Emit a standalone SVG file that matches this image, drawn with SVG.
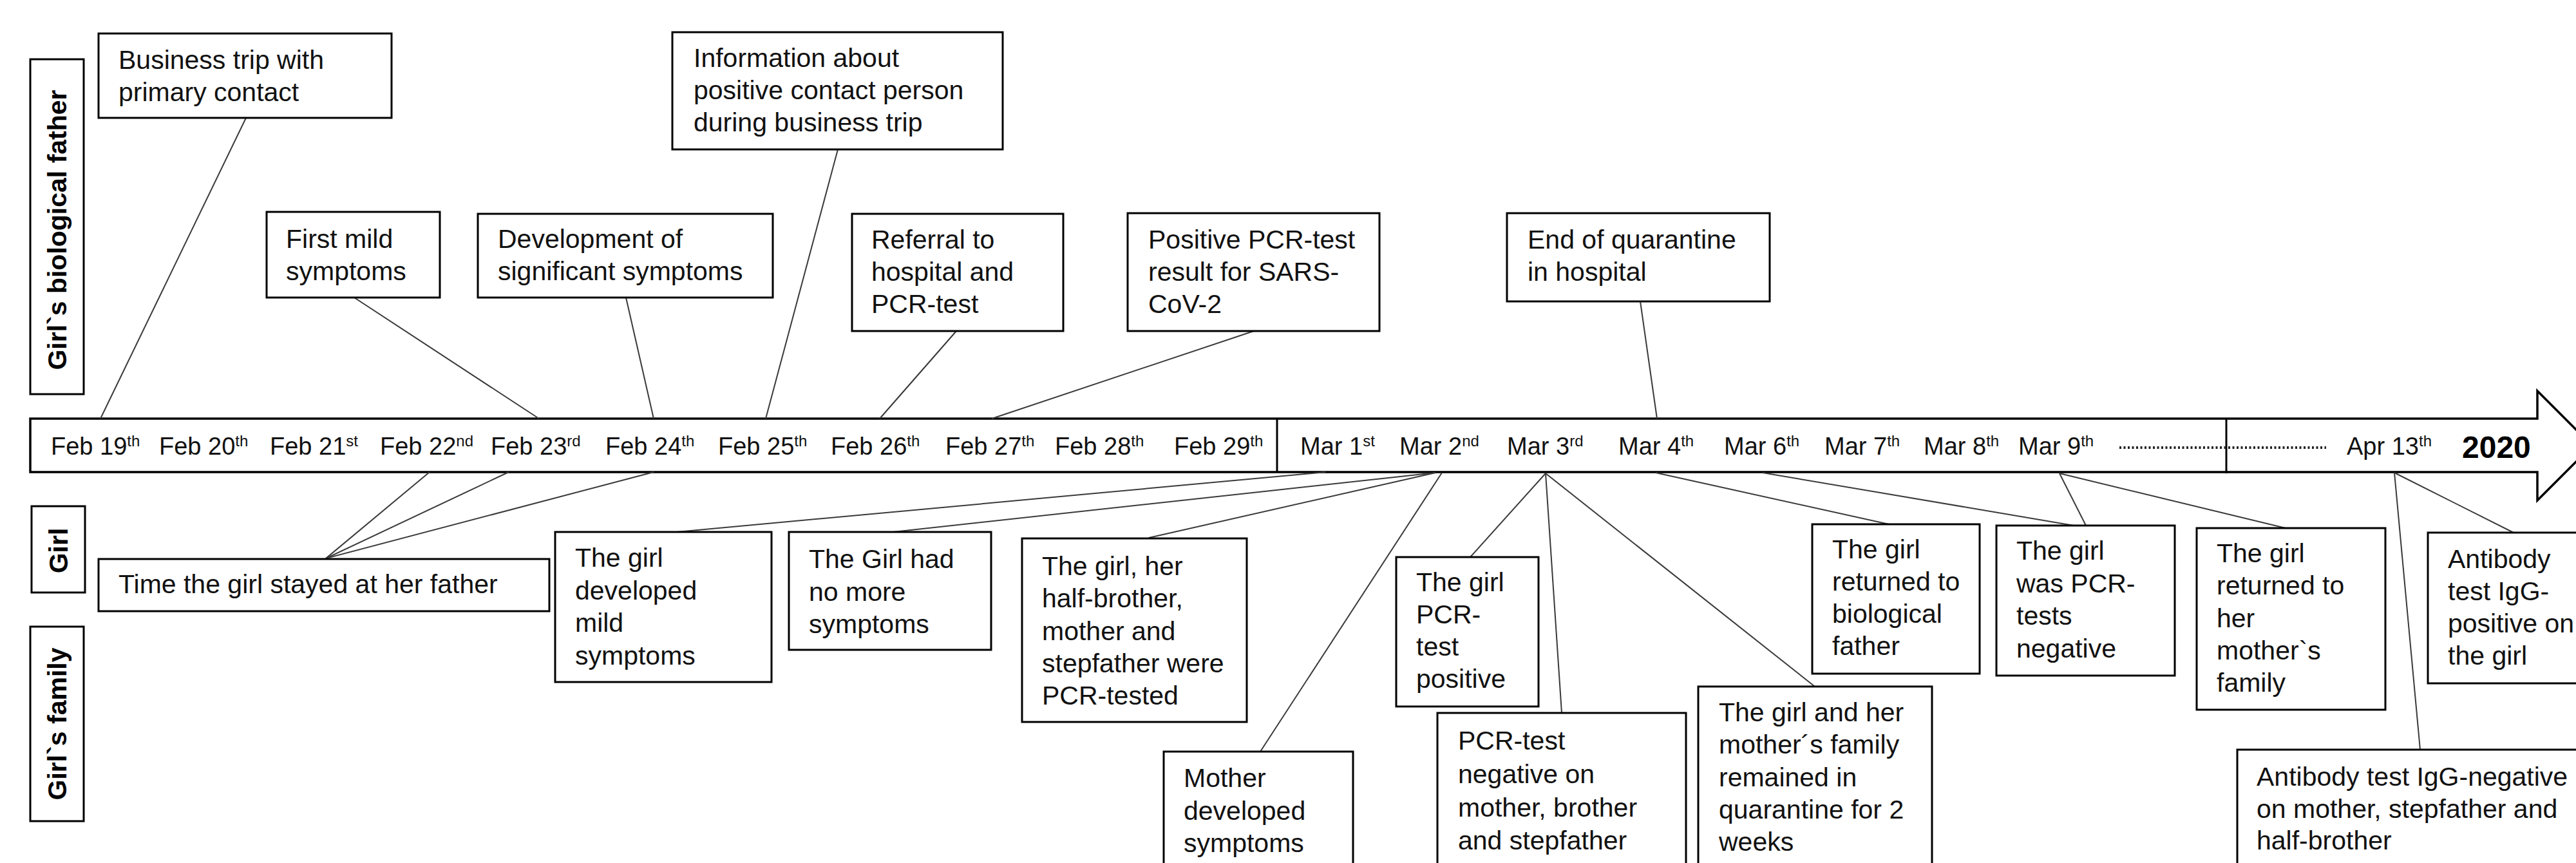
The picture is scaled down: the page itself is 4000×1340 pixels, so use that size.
<svg xmlns="http://www.w3.org/2000/svg" width="4000" height="1340" viewBox="0 0 4000 1340">
<style>
.box{fill:#fff;stroke:#000;stroke-width:3}
.t{font-family:"Liberation Sans",Arial,sans-serif;font-size:41px;fill:#111}
.d{font-family:"Liberation Sans",Arial,sans-serif;font-size:38px;fill:#111}
.sup{font-size:24px}
.y{font-family:"Liberation Sans",Arial,sans-serif;font-size:48px;font-weight:bold;fill:#000}
.lbl{font-family:"Liberation Sans",Arial,sans-serif;font-size:41px;font-weight:bold;fill:#000;text-anchor:middle}
.conn line{stroke:#3a3a3a;stroke-width:2}
.axis{fill:#fff;stroke:#000;stroke-width:3.5}
</style>
<rect width="4000" height="1340" fill="#fff"/>

<g id="lane-father"><rect class="box" x="47" y="92" width="83" height="520"/><text class="lbl" transform="translate(103,357) rotate(-90)">Girl`s biological father</text></g>
<g id="lane-girl"><rect class="box" x="49" y="786" width="83" height="134"/><text class="lbl" transform="translate(105,855) rotate(-90)">Girl</text></g>
<g id="lane-family"><rect class="box" x="47" y="973" width="83" height="302"/><text class="lbl" transform="translate(103,1124) rotate(-90)">Girl`s family</text></g>

<g id="timeline">
<path class="axis" d="M47,650 H3940 V607 L4025,692 L3940,777 V733 H47 Z"/>
<line x1="1983" y1="650" x2="1983" y2="733" stroke="#000" stroke-width="3"/>
<line x1="3457" y1="650" x2="3457" y2="735" stroke="#000" stroke-width="3"/>
<line x1="3291" y1="695" x2="3612" y2="695" stroke="#222" stroke-width="4" stroke-dasharray="3 3.5"/>
<text class="d" x="79" y="706">Feb 19<tspan class="sup" dy="-13">th</tspan></text>
<text class="d" x="247" y="706">Feb 20<tspan class="sup" dy="-13">th</tspan></text>
<text class="d" x="419" y="706">Feb 21<tspan class="sup" dy="-13">st</tspan></text>
<text class="d" x="590" y="706">Feb 22<tspan class="sup" dy="-13">nd</tspan></text>
<text class="d" x="762" y="706">Feb 23<tspan class="sup" dy="-13">rd</tspan></text>
<text class="d" x="940" y="706">Feb 24<tspan class="sup" dy="-13">th</tspan></text>
<text class="d" x="1115" y="706">Feb 25<tspan class="sup" dy="-13">th</tspan></text>
<text class="d" x="1290" y="706">Feb 26<tspan class="sup" dy="-13">th</tspan></text>
<text class="d" x="1468" y="706">Feb 27<tspan class="sup" dy="-13">th</tspan></text>
<text class="d" x="1638" y="706">Feb 28<tspan class="sup" dy="-13">th</tspan></text>
<text class="d" x="1823" y="706">Feb 29<tspan class="sup" dy="-13">th</tspan></text>
<text class="d" x="2019" y="706">Mar 1<tspan class="sup" dy="-13">st</tspan></text>
<text class="d" x="2173" y="706">Mar 2<tspan class="sup" dy="-13">nd</tspan></text>
<text class="d" x="2340" y="706">Mar 3<tspan class="sup" dy="-13">rd</tspan></text>
<text class="d" x="2513" y="706">Mar 4<tspan class="sup" dy="-13">th</tspan></text>
<text class="d" x="2677" y="706">Mar 6<tspan class="sup" dy="-13">th</tspan></text>
<text class="d" x="2833" y="706">Mar 7<tspan class="sup" dy="-13">th</tspan></text>
<text class="d" x="2987" y="706">Mar 8<tspan class="sup" dy="-13">th</tspan></text>
<text class="d" x="3134" y="706">Mar 9<tspan class="sup" dy="-13">th</tspan></text>
<text class="d" x="3644" y="706">Apr 13<tspan class="sup" dy="-13">th</tspan></text>
<text class="y" x="3823" y="711">2020</text>
</g>

<g id="connectors" class="conn">
<line x1="382" y1="183" x2="156" y2="650"/>
<line x1="550" y1="462" x2="837" y2="650"/>
<line x1="972" y1="462" x2="1015" y2="650"/>
<line x1="1301" y1="232" x2="1189" y2="650"/>
<line x1="1485" y1="514" x2="1366" y2="650"/>
<line x1="1947" y1="514" x2="1540" y2="650"/>
<line x1="2547" y1="468" x2="2573" y2="650"/>
<line x1="506" y1="867" x2="667" y2="733"/>
<line x1="506" y1="867" x2="790" y2="733"/>
<line x1="506" y1="867" x2="1015" y2="733"/>
<line x1="1051" y1="826" x2="2058" y2="733"/>
<line x1="1387" y1="826" x2="2229" y2="734"/>
<line x1="1784" y1="835" x2="2229" y2="734"/>
<line x1="1957" y1="1167" x2="2239" y2="734"/>
<line x1="2283" y1="865" x2="2400" y2="735"/>
<line x1="2425" y1="1107" x2="2400" y2="735"/>
<line x1="2818" y1="1066" x2="2400" y2="735"/>
<line x1="2933" y1="814" x2="2571" y2="734"/>
<line x1="3220" y1="816" x2="2737" y2="734"/>
<line x1="3239" y1="816" x2="3198" y2="735"/>
<line x1="3549" y1="820" x2="3198" y2="735"/>
<line x1="3758" y1="1164" x2="3718" y2="734"/>
<line x1="3903" y1="827" x2="3718" y2="734"/>
</g>

<g id="n-business"><rect class="box" x="153" y="52" width="455" height="131"/><text class="t" x="184" y="107">Business trip with<tspan x="184" dy="50">primary contact</tspan></text></g>
<g id="n-info"><rect class="box" x="1044" y="50" width="513" height="182"/><text class="t" x="1077" y="104">Information about<tspan x="1077" dy="50">positive contact person</tspan><tspan x="1077" dy="50">during business trip</tspan></text></g>
<g id="n-firstmild"><rect class="box" x="414" y="329" width="269" height="133"/><text class="t" x="444" y="385">First mild<tspan x="444" dy="50">symptoms</tspan></text></g>
<g id="n-development"><rect class="box" x="742" y="332" width="458" height="130"/><text class="t" x="773" y="385">Development of<tspan x="773" dy="50">significant symptoms</tspan></text></g>
<g id="n-referral"><rect class="box" x="1323" y="332" width="328" height="182"/><text class="t" x="1353" y="386">Referral to<tspan x="1353" dy="50">hospital and</tspan><tspan x="1353" dy="50">PCR-test</tspan></text></g>
<g id="n-positive"><rect class="box" x="1751" y="331" width="391" height="183"/><text class="t" x="1783" y="386">Positive PCR-test<tspan x="1783" dy="50">result for SARS-</tspan><tspan x="1783" dy="50">CoV-2</tspan></text></g>
<g id="n-endquarantine"><rect class="box" x="2340" y="331" width="408" height="137"/><text class="t" x="2372" y="386">End of quarantine<tspan x="2372" dy="50">in hospital</tspan></text></g>

<g id="n-timestayed"><rect class="box" x="153" y="868" width="700" height="81"/><text class="t" x="184" y="921">Time the girl stayed at her father</text></g>
<g id="n-girlmild"><rect class="box" x="862" y="826" width="336" height="233"/><text class="t" x="893" y="880">The girl<tspan x="893" dy="50.5">developed</tspan><tspan x="893" dy="50.5">mild</tspan><tspan x="893" dy="50.5">symptoms</tspan></text></g>
<g id="n-nomore"><rect class="box" x="1225" y="826" width="314" height="183"/><text class="t" x="1256" y="882">The Girl had<tspan x="1256" dy="50.5">no more</tspan><tspan x="1256" dy="50.5">symptoms</tspan></text></g>
<g id="n-pcrtested"><rect class="box" x="1587" y="836" width="349" height="285"/><text class="t" x="1618" y="893">The girl, her<tspan x="1618" dy="50.3">half-brother,</tspan><tspan x="1618" dy="50.3">mother and</tspan><tspan x="1618" dy="50.3">stepfather were</tspan><tspan x="1618" dy="50.3">PCR-tested</tspan></text></g>
<g id="n-mother"><rect class="box" x="1807" y="1167" width="294" height="190"/><text class="t" x="1838" y="1222">Mother<tspan x="1838" dy="50.5">developed</tspan><tspan x="1838" dy="50.5">symptoms</tspan></text></g>
<g id="n-girlpositive"><rect class="box" x="2168" y="865" width="221" height="232"/><text class="t" x="2199" y="918">The girl<tspan x="2199" dy="50">PCR-</tspan><tspan x="2199" dy="50">test</tspan><tspan x="2199" dy="50">positive</tspan></text></g>
<g id="n-pcrnegative"><rect class="box" x="2232" y="1107" width="386" height="250"/><text class="t" x="2264" y="1164">PCR-test<tspan x="2264" dy="52">negative on</tspan><tspan x="2264" dy="52">mother, brother</tspan><tspan x="2264" dy="51">and stepfather</tspan></text></g>
<g id="n-remained"><rect class="box" x="2637" y="1066" width="363" height="290"/><text class="t" x="2669" y="1120">The girl and her<tspan x="2669" dy="50">mother´s family</tspan><tspan x="2669" dy="50.5">remained in</tspan><tspan x="2669" dy="50">quarantine for 2</tspan><tspan x="2669" dy="50">weeks</tspan></text></g>
<g id="n-returnedfather"><rect class="box" x="2814" y="814" width="260" height="232"/><text class="t" x="2845" y="867">The girl<tspan x="2845" dy="50">returned to</tspan><tspan x="2845" dy="50">biological</tspan><tspan x="2845" dy="50">father</tspan></text></g>
<g id="n-pcrneg"><rect class="box" x="3100" y="816" width="277" height="233"/><text class="t" x="3131" y="869">The girl<tspan x="3131" dy="50.5">was PCR-</tspan><tspan x="3131" dy="50.5">tests</tspan><tspan x="3131" dy="50.5">negative</tspan></text></g>
<g id="n-returnedmother"><rect class="box" x="3411" y="820" width="293" height="282"/><text class="t" x="3442" y="873">The girl<tspan x="3442" dy="50.3">returned to</tspan><tspan x="3442" dy="50.3">her</tspan><tspan x="3442" dy="50.3">mother`s</tspan><tspan x="3442" dy="50.3">family</tspan></text></g>
<g id="n-abpositive"><rect class="box" x="3770" y="827" width="245" height="234"/><text class="t" x="3801" y="882">Antibody<tspan x="3801" dy="50">test IgG-</tspan><tspan x="3801" dy="50">positive on</tspan><tspan x="3801" dy="50">the girl</tspan></text></g>
<g id="n-abnegative"><rect class="box" x="3474" y="1164" width="541" height="195"/><text class="t" x="3504" y="1220">Antibody test IgG-negative<tspan x="3504" dy="49.5">on mother, stepfather and</tspan><tspan x="3504" dy="49.5">half-brother</tspan></text></g>
</svg>
